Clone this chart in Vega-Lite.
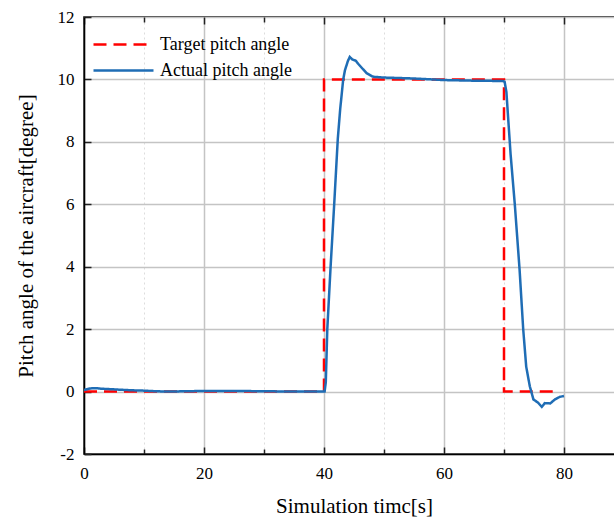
{
  "$schema": "https://vega.github.io/schema/vega-lite/v6.json",
  "width": 540,
  "height": 437,
  "autosize": {"type": "none"},
  "padding": {"left": 84, "top": 17, "right": 0, "bottom": 65},
  "background": "white",
  "config": {
    "font": "'Liberation Serif', 'DejaVu Serif', serif",
    "view": {"stroke": "black", "strokeWidth": 1.5},
    "axis": {"labelFont": "'Liberation Serif', 'DejaVu Serif', serif", "titleFont": "'Liberation Serif', 'DejaVu Serif', serif", "labelColor": "black", "titleColor": "black", "titleFontWeight": "normal"},
    "legend": {"labelFont": "'Liberation Serif', 'DejaVu Serif', serif"}
  },
  "data": {"values": [
    {"i": 1, "t": 0, "v": 0, "s": "Target pitch angle"},
    {"i": 2, "t": 40, "v": 0, "s": "Target pitch angle"},
    {"i": 3, "t": 40, "v": 10, "s": "Target pitch angle"},
    {"i": 4, "t": 70, "v": 10, "s": "Target pitch angle"},
    {"i": 5, "t": 70, "v": 0, "s": "Target pitch angle"},
    {"i": 6, "t": 79, "v": 0, "s": "Target pitch angle"},
    {"i": 1, "t": 0, "v": 0.05, "s": "Actual pitch angle"},
    {"i": 2, "t": 1, "v": 0.1, "s": "Actual pitch angle"},
    {"i": 3, "t": 2, "v": 0.11, "s": "Actual pitch angle"},
    {"i": 4, "t": 3, "v": 0.09, "s": "Actual pitch angle"},
    {"i": 5, "t": 4, "v": 0.08, "s": "Actual pitch angle"},
    {"i": 6, "t": 6, "v": 0.06, "s": "Actual pitch angle"},
    {"i": 7, "t": 8, "v": 0.04, "s": "Actual pitch angle"},
    {"i": 8, "t": 10, "v": 0.03, "s": "Actual pitch angle"},
    {"i": 9, "t": 12, "v": 0.01, "s": "Actual pitch angle"},
    {"i": 10, "t": 14, "v": 0.0, "s": "Actual pitch angle"},
    {"i": 11, "t": 17, "v": 0.01, "s": "Actual pitch angle"},
    {"i": 12, "t": 20, "v": 0.02, "s": "Actual pitch angle"},
    {"i": 13, "t": 25, "v": 0.02, "s": "Actual pitch angle"},
    {"i": 14, "t": 30, "v": 0.01, "s": "Actual pitch angle"},
    {"i": 15, "t": 35, "v": 0.0, "s": "Actual pitch angle"},
    {"i": 16, "t": 40.1, "v": 0.0, "s": "Actual pitch angle"},
    {"i": 17, "t": 40.3, "v": 0.3, "s": "Actual pitch angle"},
    {"i": 18, "t": 40.55, "v": 2.0, "s": "Actual pitch angle"},
    {"i": 19, "t": 41.1, "v": 4.0, "s": "Actual pitch angle"},
    {"i": 20, "t": 41.7, "v": 6.0, "s": "Actual pitch angle"},
    {"i": 21, "t": 42.3, "v": 8.1, "s": "Actual pitch angle"},
    {"i": 22, "t": 42.7, "v": 9.05, "s": "Actual pitch angle"},
    {"i": 23, "t": 43.2, "v": 10.0, "s": "Actual pitch angle"},
    {"i": 24, "t": 43.5, "v": 10.3, "s": "Actual pitch angle"},
    {"i": 25, "t": 44.0, "v": 10.6, "s": "Actual pitch angle"},
    {"i": 26, "t": 44.3, "v": 10.72, "s": "Actual pitch angle"},
    {"i": 27, "t": 44.7, "v": 10.64, "s": "Actual pitch angle"},
    {"i": 28, "t": 45.3, "v": 10.6, "s": "Actual pitch angle"},
    {"i": 29, "t": 45.7, "v": 10.5, "s": "Actual pitch angle"},
    {"i": 30, "t": 46.4, "v": 10.35, "s": "Actual pitch angle"},
    {"i": 31, "t": 47.1, "v": 10.2, "s": "Actual pitch angle"},
    {"i": 32, "t": 48, "v": 10.1, "s": "Actual pitch angle"},
    {"i": 33, "t": 48.5, "v": 10.08, "s": "Actual pitch angle"},
    {"i": 34, "t": 50, "v": 10.06, "s": "Actual pitch angle"},
    {"i": 35, "t": 55, "v": 10.03, "s": "Actual pitch angle"},
    {"i": 36, "t": 60, "v": 9.98, "s": "Actual pitch angle"},
    {"i": 37, "t": 65, "v": 9.96, "s": "Actual pitch angle"},
    {"i": 38, "t": 69.8, "v": 9.95, "s": "Actual pitch angle"},
    {"i": 39, "t": 70.1, "v": 9.93, "s": "Actual pitch angle"},
    {"i": 40, "t": 70.4, "v": 9.6, "s": "Actual pitch angle"},
    {"i": 41, "t": 71.1, "v": 7.6, "s": "Actual pitch angle"},
    {"i": 42, "t": 71.8, "v": 6.0, "s": "Actual pitch angle"},
    {"i": 43, "t": 72.6, "v": 3.9, "s": "Actual pitch angle"},
    {"i": 44, "t": 73.2, "v": 2.0, "s": "Actual pitch angle"},
    {"i": 45, "t": 73.7, "v": 0.8, "s": "Actual pitch angle"},
    {"i": 46, "t": 74.3, "v": 0.17, "s": "Actual pitch angle"},
    {"i": 47, "t": 74.9, "v": -0.25, "s": "Actual pitch angle"},
    {"i": 48, "t": 75.7, "v": -0.36, "s": "Actual pitch angle"},
    {"i": 49, "t": 76.3, "v": -0.49, "s": "Actual pitch angle"},
    {"i": 50, "t": 76.8, "v": -0.37, "s": "Actual pitch angle"},
    {"i": 51, "t": 77.7, "v": -0.38, "s": "Actual pitch angle"},
    {"i": 52, "t": 78.5, "v": -0.25, "s": "Actual pitch angle"},
    {"i": 53, "t": 79.3, "v": -0.17, "s": "Actual pitch angle"},
    {"i": 54, "t": 80, "v": -0.14, "s": "Actual pitch angle"}
  ]},
  "layer": [
    {
      "transform": [{"filter": "datum.s === 'Target pitch angle'"}],
      "mark": {"type": "line", "strokeWidth": 2.5, "clip": true},
      "encoding": {
        "x": {"field": "t", "type": "quantitative", "scale": {"domain": [0, 90], "nice": false},
          "axis": {"orient": "bottom", "title": "Simulation timc[s]", "titleFontSize": 21, "titlePadding": 14,
            "titleFont": "'Liberation Serif', 'DejaVu Serif', serif",
            "labelFont": "'Liberation Serif', 'DejaVu Serif', serif",
            "values": [0, 10, 20, 30, 40, 50, 60, 70, 80, 90],
            "labelExpr": "datum.value % 20 === 0 ? toString(datum.value) : ''",
            "labelFontSize": 17, "labelPadding": 18, "labelFlush": false,
            "domain": true, "domainColor": "black", "domainWidth": 1.5,
            "ticks": true, "tickColor": "#222", "tickWidth": 1.5,
            "tickSize": {"condition": {"test": "datum.value % 20 === 0", "value": -7}, "value": -5},
            "grid": true,
            "gridColor": {"condition": {"test": "datum.value % 20 === 0", "value": "#c4c4c4"}, "value": "#dddddd"},
            "gridWidth": {"condition": {"test": "datum.value % 20 === 0", "value": 1.5}, "value": 1},
            "gridDash": {"condition": {"test": "datum.value % 20 === 0", "value": []}, "value": [2, 3]}}},
        "y": {"field": "v", "type": "quantitative", "scale": {"domain": [-2, 12], "nice": false},
          "axis": {"title": "Pitch angle of the aircraft[degree]", "titleFontSize": 21, "titlePadding": 21,
            "titleFont": "'Liberation Serif', 'DejaVu Serif', serif",
            "labelFont": "'Liberation Serif', 'DejaVu Serif', serif",
            "values": [-2, -1, 0, 1, 2, 3, 4, 5, 6, 7, 8, 9, 10, 11, 12],
            "labelExpr": "datum.value % 2 === 0 ? toString(datum.value) : ''",
            "labelFontSize": 17, "labelPadding": 17, "labelFlush": false,
            "domain": true, "domainColor": "black", "domainWidth": 1.5,
            "ticks": true, "tickColor": "#222", "tickWidth": 1.5,
            "tickSize": {"condition": {"test": "datum.value % 2 === 0", "value": -7}, "value": -5},
            "grid": true,
            "gridColor": {"condition": {"test": "datum.value % 2 === 0", "value": "#c4c4c4"}, "value": "#dddddd"},
            "gridWidth": {"condition": {"test": "datum.value % 2 === 0", "value": 1.5}, "value": 1},
            "gridDash": {"condition": {"test": "datum.value % 2 === 0", "value": []}, "value": [2, 3]}}},
        "order": {"field": "i", "type": "quantitative"},
        "color": {"field": "s", "type": "nominal",
          "scale": {"domain": ["Target pitch angle", "Actual pitch angle"], "range": ["#ff0000", "#1f6db5"]},
          "legend": {"title": null, "orient": "none", "legendX": 23, "legendY": 11,
            "symbolType": "M-2,0H2", "symbolSize": 900, "symbolStrokeWidth": 2.5,
            "labelFontSize": 18, "labelColor": "black", "labelOffset": 20,
            "rowPadding": 0}},
        "strokeDash": {"field": "s", "type": "nominal",
          "scale": {"domain": ["Target pitch angle", "Actual pitch angle"], "range": [[13, 7], [1, 0]]},
          "legend": {"title": null, "orient": "none", "legendX": 23, "legendY": 11,
            "symbolType": "M-2,0H2", "symbolSize": 900, "symbolStrokeWidth": 2.5,
            "labelFontSize": 18, "labelColor": "black", "labelOffset": 20,
            "rowPadding": 0}}
      }
    },
    {
      "transform": [{"filter": "datum.s === 'Actual pitch angle'"}],
      "mark": {"type": "line", "strokeWidth": 2.5, "clip": true},
      "encoding": {
        "x": {"field": "t", "type": "quantitative",
          "axis": {"orient": "top", "title": null, "labels": false, "grid": false, "domain": false,
            "values": [0, 10, 20, 30, 40, 50, 60, 70, 80, 90],
            "ticks": true, "tickColor": "#222", "tickWidth": 1.5,
            "tickSize": {"condition": {"test": "datum.value % 20 === 0", "value": -7}, "value": -5}}},
        "y": {"field": "v", "type": "quantitative"},
        "order": {"field": "i", "type": "quantitative"},
        "color": {"field": "s", "type": "nominal"},
        "strokeDash": {"field": "s", "type": "nominal"}
      }
    }
  ],
  "resolve": {"axis": {"x": "independent"}}
}
